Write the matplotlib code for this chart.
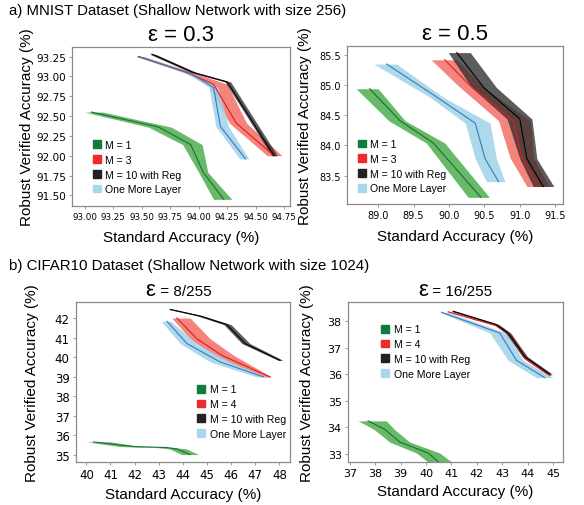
import matplotlib
matplotlib.use('Agg')
import matplotlib.pyplot as plt
from matplotlib.patches import Patch
import numpy as np

# ---- a) MNIST, eps = 0.3 ----
m03_m1_y   = [92.55, 92.36, 92.14, 91.79, 91.45]
m03_m1_mid = [93.06, 93.65, 93.93, 94.04, 94.22]
m03_m1_lo  = [93.00, 93.56, 93.86, 94.00, 94.13]
m03_m1_hi  = [93.16, 93.76, 94.03, 94.08, 94.29]
m03_m3_y   = [93.25, 93.05, 92.90, 92.41, 92.00]
m03_m3_mid = [93.47, 93.90, 94.13, 94.33, 94.66]
m03_m3_lo  = [93.45, 93.87, 94.08, 94.27, 94.60]
m03_m3_hi  = [93.52, 93.95, 94.25, 94.42, 94.73]
m03_ol_y   = [93.25, 93.02, 92.86, 92.37, 91.96]
m03_ol_mid = [93.48, 93.95, 94.13, 94.19, 94.41]
m03_ol_lo  = [93.46, 93.92, 94.09, 94.15, 94.36]
m03_ol_hi  = [93.52, 93.98, 94.17, 94.26, 94.44]
m03_m10_y   = [93.28, 93.05, 92.93, 92.00]
m03_m10_mid = [93.59, 93.95, 94.25, 94.66]
m03_m10_lo  = [93.57, 93.93, 94.23, 94.64]
m03_m10_hi  = [93.62, 93.98, 94.28, 94.69]

# ---- a) MNIST, eps = 0.5 ----
m05_m1_y   = [84.94, 84.41, 84.04, 83.14]
m05_m1_mid = [88.88, 89.31, 89.78, 90.45]
m05_m1_lo  = [88.69, 89.15, 89.68, 90.27]
m05_m1_hi  = [89.00, 89.38, 89.94, 90.57]
m05_m3_y   = [85.42, 84.99, 84.41, 83.80, 83.32]
m05_m3_mid = [89.94, 90.30, 90.91, 91.03, 91.26]
m05_m3_lo  = [89.75, 90.13, 90.70, 90.86, 91.10]
m05_m3_hi  = [90.11, 90.46, 91.15, 91.19, 91.41]
m05_ol_y   = [85.35, 84.80, 84.37, 83.78, 83.40]
m05_ol_mid = [89.12, 89.83, 90.37, 90.51, 90.70]
m05_ol_lo  = [88.94, 89.73, 90.23, 90.37, 90.53]
m05_ol_hi  = [89.26, 89.92, 90.58, 90.67, 90.79]
m05_m10_y   = [85.54, 84.96, 84.44, 83.78, 83.32]
m05_m10_mid = [90.11, 90.49, 91.00, 91.10, 91.33]
m05_m10_lo  = [89.99, 90.32, 90.82, 91.00, 91.19]
m05_m10_hi  = [90.30, 90.67, 91.17, 91.24, 91.48]

# ---- b) CIFAR10, eps = 8/255 ----
c8_m1_y   = [35.65, 35.41, 35.36, 35.29, 35.00]
c8_m1_mid = [40.30, 41.96, 43.34, 43.75, 44.30]
c8_m1_lo  = [40.00, 41.40, 42.90, 43.45, 43.96]
c8_m1_hi  = [41.00, 42.30, 43.60, 44.15, 44.65]
c8_m4_y   = [42.00, 40.94, 40.09, 38.98]
c8_m4_mid = [43.75, 44.58, 45.61, 47.61]
c8_m4_lo  = [43.54, 44.30, 45.27, 47.34]
c8_m4_hi  = [44.30, 45.13, 46.10, 47.68]
c8_ol_y   = [41.83, 40.69, 39.75, 38.98]
c8_ol_mid = [43.34, 44.17, 45.54, 47.34]
c8_ol_lo  = [43.10, 43.89, 45.13, 47.06]
c8_ol_hi  = [43.50, 44.58, 45.96, 47.48]
c8_m10_y   = [42.44, 42.10, 41.66, 40.69, 39.83]
c8_m10_mid = [43.48, 44.72, 45.82, 46.58, 48.03]
c8_m10_lo  = [43.40, 44.62, 45.70, 46.45, 47.95]
c8_m10_hi  = [43.62, 44.86, 46.00, 46.78, 48.15]

# ---- b) CIFAR10, eps = 16/255 ----
c16_m1_y   = [34.25, 33.93, 33.45, 33.04, 32.45]
c16_m1_mid = [37.72, 38.38, 38.97, 40.08, 40.80]
c16_m1_lo  = [37.33, 37.95, 38.57, 39.62, 40.41]
c16_m1_hi  = [38.44, 38.75, 39.36, 40.54, 41.35]
c16_m4_y   = [38.36, 37.84, 37.49, 36.60, 35.96]
c16_m4_mid = [40.87, 42.77, 43.30, 43.89, 44.87]
c16_m4_lo  = [40.82, 42.72, 43.25, 43.84, 44.82]
c16_m4_hi  = [40.95, 42.85, 43.38, 43.97, 44.95]
c16_ol_y   = [38.34, 37.56, 36.53, 35.88]
c16_ol_mid = [40.61, 42.90, 43.56, 44.67]
c16_ol_lo  = [40.55, 42.51, 43.23, 44.34]
c16_ol_hi  = [40.85, 43.16, 43.82, 45.00]
c16_m10_y   = [38.38, 37.88, 37.56, 36.67, 36.01]
c16_m10_mid = [41.07, 42.77, 43.23, 43.89, 44.87]
c16_m10_lo  = [40.97, 42.67, 43.13, 43.79, 44.77]
c16_m10_hi  = [41.17, 42.87, 43.33, 43.99, 44.97]

band_c = {'m1': ('#2ca02c', 0.72), 'm3': ('#ec3b2e', 0.62), 'ol': ('#9fd3e8', 0.85), 'm10': ('#2e2e2e', 0.78)}
line_c = {'m1': '#1d6b3a', 'm3': '#e41a1c', 'ol': '#3a78c0', 'm10': 'k'}
leg_c = ['#0e7c3a', '#ee2a2a', '#222222', '#a9d7ea']

TICK_FONT = 'DejaVu Sans'
LAB_FONT = 'Liberation Sans'

fig = plt.figure(figsize=(5.84, 5.06), dpi=100)


def band(ax, key, y, mid, lo, hi):
    c, a = band_c[key]
    ax.fill_betweenx(y, lo, hi, color=c, alpha=a, linewidth=0)
    ax.plot(mid, y, color=line_c[key], lw=0.8)


def setup(ax, xlim, ylim, xt, yt, fmt, xfs, yfs, xpad, ypad, legloc, mlabel):
    ax.set_xlim(*xlim)
    ax.set_ylim(*ylim)
    ax.set_xticks(xt)
    ax.set_yticks(yt)
    ax.set_xticklabels([fmt % v for v in xt], fontsize=xfs, family=TICK_FONT)
    ax.set_yticklabels([fmt % v for v in yt], fontsize=yfs, family=TICK_FONT)
    for s in ax.spines.values():
        s.set_color('#8a8a8a')
        s.set_linewidth(0.9)
    ax.tick_params(length=2.5, width=0.6, color='#8a8a8a', pad=2)
    ax.set_xlabel('Standard Accuracy (%)', fontsize=11, family=LAB_FONT, labelpad=xpad)
    ax.set_ylabel('Robust Verified Accuracy (%)', fontsize=11, family=LAB_FONT, labelpad=ypad)
    handles = [Patch(color=c) for c in leg_c]
    labels = ['M = 1', mlabel, 'M = 10 with Reg', 'One More Layer']
    ax.legend(handles, labels, loc='upper left', bbox_to_anchor=legloc, frameon=False,
              prop={'family': LAB_FONT, 'size': 7.6}, handlelength=0.75, handleheight=0.75,
              handletextpad=0.45, labelspacing=0.45, borderaxespad=0, borderpad=0)


# a) left
ax1 = fig.add_axes([0.1233, 0.5909, 0.3733, 0.3142])
band(ax1, 'm1', m03_m1_y, m03_m1_mid, m03_m1_lo, m03_m1_hi)
band(ax1, 'm3', m03_m3_y, m03_m3_mid, m03_m3_lo, m03_m3_hi)
band(ax1, 'ol', m03_ol_y, m03_ol_mid, m03_ol_lo, m03_ol_hi)
band(ax1, 'm10', m03_m10_y, m03_m10_mid, m03_m10_lo, m03_m10_hi)
setup(ax1, (92.89, 94.80), (91.366, 93.37), np.arange(93.0, 94.76, 0.25), np.arange(91.5, 93.26, 0.25),
      '%.2f', 6.3, 7.5, 6.5, 1, (0.095, 0.415), 'M = 3')
ax1.set_title('ε = 0.3', fontsize=16, family=LAB_FONT, pad=5)

# a) right
ax2 = fig.add_axes([0.5942, 0.5949, 0.3699, 0.3123])
band(ax2, 'm1', m05_m1_y, m05_m1_mid, m05_m1_lo, m05_m1_hi)
band(ax2, 'm3', m05_m3_y, m05_m3_mid, m05_m3_lo, m05_m3_hi)
band(ax2, 'ol', m05_ol_y, m05_ol_mid, m05_ol_lo, m05_ol_hi)
band(ax2, 'm10', m05_m10_y, m05_m10_mid, m05_m10_lo, m05_m10_hi)
setup(ax2, (88.56, 91.61), (83.03, 85.65), np.arange(89.0, 91.51, 0.5), np.arange(83.5, 85.51, 0.5),
      '%.1f', 7, 7, 6.5, 5, (0.05, 0.41), 'M = 3')
ax2.set_title('ε = 0.5', fontsize=16, family=LAB_FONT, pad=5)

# b) left
ax3 = fig.add_axes([0.1301, 0.085, 0.3664, 0.3162])
band(ax3, 'm1', c8_m1_y, c8_m1_mid, c8_m1_lo, c8_m1_hi)
band(ax3, 'm3', c8_m4_y, c8_m4_mid, c8_m4_lo, c8_m4_hi)
band(ax3, 'ol', c8_ol_y, c8_ol_mid, c8_ol_lo, c8_ol_hi)
band(ax3, 'm10', c8_m10_y, c8_m10_mid, c8_m10_lo, c8_m10_hi)
setup(ax3, (39.57, 48.44), (34.62, 42.82), np.arange(40, 49), np.arange(35, 43),
      '%d', 8.5, 8.5, 4, 11, (0.565, 0.485), 'M = 4')

# b) right
ax4 = fig.add_axes([0.5959, 0.085, 0.3682, 0.3162])
band(ax4, 'm1', c16_m1_y, c16_m1_mid, c16_m1_lo, c16_m1_hi)
band(ax4, 'm3', c16_m4_y, c16_m4_mid, c16_m4_lo, c16_m4_hi)
band(ax4, 'ol', c16_ol_y, c16_ol_mid, c16_ol_lo, c16_ol_hi)
band(ax4, 'm10', c16_m10_y, c16_m10_mid, c16_m10_lo, c16_m10_hi)
setup(ax4, (36.93, 45.39), (32.70, 38.73), np.arange(37, 46), np.arange(33, 39),
      '%d', 8, 8, 4, 10, (0.155, 0.86), 'M = 4')

# CIFAR titles: big epsilon, smaller rest
for ax, rest in [(ax3, ' = 8/255'), (ax4, ' = 16/255')]:
    ax.text(0.372, 1.044, 'ε', transform=ax.transAxes, ha='right', va='baseline',
            fontsize=16, family=LAB_FONT)
    ax.text(0.372, 1.044, rest, transform=ax.transAxes, ha='left', va='baseline', fontsize=11, family=LAB_FONT)

fig.text(0.015, 0.993, 'a) MNIST Dataset (Shallow Network with size 256)', ha='left', va='top',
         fontsize=10.8, family=LAB_FONT)
fig.text(0.015, 0.488, 'b) CIFAR10 Dataset (Shallow Network with size 1024)', ha='left', va='top',
         fontsize=10.8, family=LAB_FONT)

fig.savefig('out.png', dpi=100)
